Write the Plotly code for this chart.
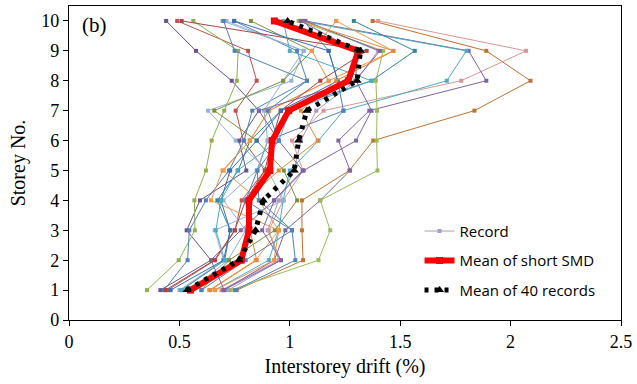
import plotly.graph_objects as go

storeys = [1, 2, 3, 4, 5, 6, 7, 8, 9, 10]

# Record drifts (%), storey 1..10
rec01 = [0.72, 0.96, 0.90, 0.95, 1.02, 1.05, 1.12, 1.30, 1.40, 1.07]
rec02 = [0.76, 1.06, 1.055, 1.055, 1.27, 1.378, 1.836, 2.09, 1.89, 1.375]
rec03 = [0.69, 0.95, 0.905, 0.97, 1.06, 1.01, 1.153, 1.776, 2.07, 1.40]
rec04 = [0.70, 0.93, 0.98, 1.138, 1.273, 1.22, 1.36, 1.89, 1.81, 1.07]
rec05 = [0.66, 0.905, 0.95, 0.97, 1.00, 1.13, 1.243, 1.711, 1.80, 1.05]
rec06 = [0.733, 1.13, 1.183, 1.138, 1.397, 1.393, 1.395, 1.39, 1.423, 1.04]
rec07 = [0.51, 0.705, 0.73, 0.672, 0.766, 0.82, 0.96, 1.37, 1.566, 1.29]
rec08 = [0.635, 0.845, 0.95, 0.86, 0.70, 0.818, 0.905, 1.176, 1.468, 1.21]
rec09 = [0.414, 0.643, 0.533, 0.593, 0.803, 0.77, 0.86, 0.737, 0.575, 0.44]
rec10 = [0.447, 0.662, 0.752, 0.782, 0.887, 0.79, 0.755, 0.85, 0.811, 0.49]
rec11 = [0.353, 0.497, 0.57, 0.568, 0.62, 0.646, 0.703, 0.76, 0.766, 0.563]
rec12 = [0.752, 1.025, 1.01, 0.86, 0.853, 0.90, 1.243, 1.217, 1.176, 1.063]
rec13 = [0.43, 0.537, 0.545, 0.62, 0.725, 0.793, 0.83, 1.078, 1.033, 0.748]
rec14 = [0.50, 0.70, 0.66, 0.973, 0.90, 0.755, 0.63, 1.007, 1.063, 0.695]
rec15 = [0.55, 0.72, 0.80, 0.70, 0.85, 0.90, 0.883, 0.97, 1.063, 0.713]
rec16 = [0.60, 0.725, 0.932, 1.033, 0.973, 0.85, 0.658, 0.97, 1.10, 0.824]
rec17 = [0.662, 0.928, 0.95, 0.643, 0.695, 0.82, 0.905, 1.176, 1.10, 1.21]
rec18 = [0.703, 0.643, 0.778, 0.928, 1.058, 0.95, 0.86, 1.296, 1.408, 1.07]
rec19 = [0.437, 0.658, 0.75, 0.80, 0.887, 0.92, 0.958, 1.138, 1.348, 0.51]
rec20 = [0.46, 0.70, 0.73, 0.688, 0.73, 0.85, 0.96, 1.217, 1.176, 0.748]
rec21 = [0.508, 0.705, 0.665, 0.688, 0.763, 0.95, 1.00, 1.37, 1.00, 0.97]
rec22 = [0.64, 0.85, 0.82, 0.80, 0.95, 1.126, 1.05, 1.21, 1.47, 1.05]
rec23 = [0.70, 0.96, 0.875, 0.93, 1.063, 1.30, 1.37, 1.30, 1.30, 1.05]
rec24 = [0.60, 0.80, 1.01, 0.80, 0.853, 0.95, 0.90, 1.078, 0.75, 0.70]

records = [rec01, rec02, rec03, rec04, rec05, rec06, rec07, rec08, rec09, rec10, rec11, rec12,
           rec13, rec14, rec15, rec16, rec17, rec18, rec19, rec20, rec21, rec22, rec23, rec24]

record_colors = ["#A99BC4", "#C0722F", "#D99694", "#8064A2", "#4BACC6", "#9BBB59",
                 "#31859C", "#F79646", "#6B4F8F", "#C0504D", "#8FB04A", "#4F81BD",
                 "#4F81BD", "#95B3D7", "#95B3D7", "#77933C", "#F79646", "#8064A2",
                 "#A84442", "#3C6DB0", "#4BACC6", "#E8883A", "#8064A2", "#4F81BD"]

mean_short_smd = [0.55, 0.78, 0.815, 0.815, 0.91, 0.92, 0.995, 1.265, 1.31, 0.93]
mean_40_records = [0.535, 0.77, 0.845, 0.88, 1.02, 1.04, 1.077, 1.305, 1.32, 0.99]

fig = go.Figure()

for i, (vals, col) in enumerate(zip(records, record_colors)):
    fig.add_trace(go.Scatter(
        x=vals, y=storeys, mode="lines+markers",
        line=dict(color=col, width=1),
        marker=dict(symbol="square", size=4, color=col),
        name="Record", showlegend=(i == 0), legendgroup="rec%d" % i,
    ))

fig.add_trace(go.Scatter(
    x=mean_short_smd, y=storeys, mode="lines+markers",
    line=dict(color="#FF0000", width=6),
    marker=dict(symbol="square", size=7, color="#FF0000"),
    name="Mean of short SMD", legendgroup="smd",
))

fig.add_trace(go.Scatter(
    x=mean_40_records, y=storeys, mode="lines+markers",
    line=dict(color="#000000", width=5, dash="4px,6px"),
    marker=dict(symbol="triangle-up", size=8, color="#000000"),
    name="Mean of 40 records", legendgroup="m40",
))

serif = "Liberation Serif"

fig.update_layout(
    width=637, height=384,
    margin=dict(l=69, r=13, t=5, b=64),
    paper_bgcolor="white", plot_bgcolor="white",
    showlegend=True,
    legend=dict(x=0.635, y=0.335, xanchor="left", yanchor="top",
                bgcolor="rgba(0,0,0,0)", font=dict(family="Open Sans", size=15, color="#000"),
                tracegroupgap=7, traceorder="grouped", itemwidth=30),
    annotations=[dict(text="(b)", x=0.02, y=0.985, xref="paper", yref="paper",
                      xanchor="left", yanchor="top", showarrow=False,
                      font=dict(family=serif, size=21, color="#000"))],
)

fig.update_xaxes(range=[0, 2.5], tickvals=[0, 0.5, 1, 1.5, 2, 2.5],
                 ticktext=["0", "0.5", "1", "1.5", "2", "2.5"],
                 showgrid=False, zeroline=False, showline=True, linecolor="#000", linewidth=1.2,
                 mirror=True, ticks="outside", ticklen=5, tickcolor="#000",
                 tickfont=dict(family=serif, size=18, color="#000"),
                 title=dict(text="Interstorey drift (%)", font=dict(family=serif, size=20, color="#000"), standoff=8))

fig.update_yaxes(range=[0, 10.5], tickvals=list(range(0, 11)),
                 showgrid=False, zeroline=False, showline=True, linecolor="#000", linewidth=1.2,
                 mirror=True, ticks="outside", ticklen=5, tickcolor="#000",
                 tickfont=dict(family=serif, size=18, color="#000"),
                 title=dict(text="Storey No.", font=dict(family=serif, size=20, color="#000"), standoff=10))

fig.write_html("out.html")
